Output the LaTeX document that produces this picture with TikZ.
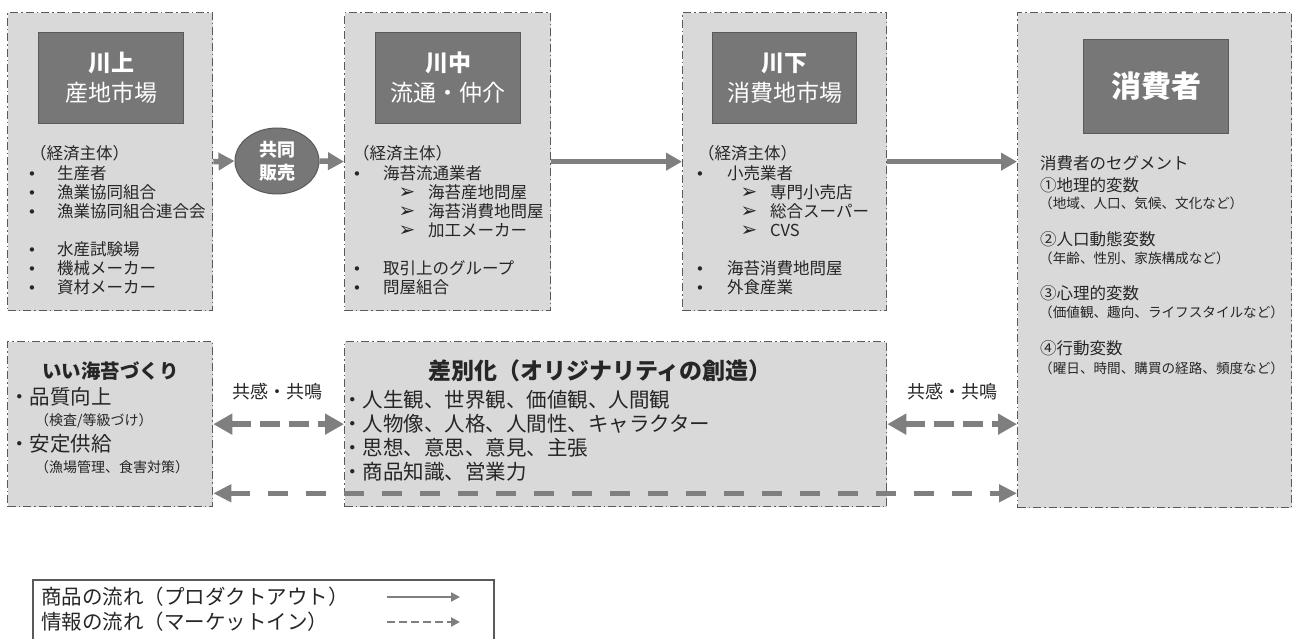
\documentclass[tikz,border=0pt]{standalone}
\usepackage{fontspec}
\setmainfont{Noto Sans CJK JP}
\newfontfamily\symfont{DejaVu Sans}
\usetikzlibrary{arrows.meta,shapes.geometric}
\definecolor{boxfill}{HTML}{D9D9D9}
\definecolor{boxline}{HTML}{5A5A5A}
\definecolor{headfill}{HTML}{777777}
\definecolor{headline}{HTML}{5A5A5A}
\definecolor{arrowc}{HTML}{7F7F7F}
\definecolor{txt}{HTML}{262626}
\newcommand{\fs}[1]{\fontsize{#1}{#1}\selectfont}
\newcommand{\bitem}[5]{%
  \node[ln, s16, anchor=center] (#1b) at (#2,#4) {\symfont\fontsize{15}{15}\selectfont •};
  \node[ln, s16] (#1) at (#3,#4) {#5};}
\newcommand{\aitem}[5]{%
  \node[ln, s16, anchor=center] (#1b) at (#2,#4) {\symfont\fontsize{20}{20}\selectfont ➢};
  \node[ln, s16] (#1) at (#3,#4) {#5};}
\begin{document}
\begin{tikzpicture}[x=1pt,y=-1pt,
  panel/.style={draw=boxline, fill=boxfill, line width=1.3pt,
    dash pattern=on 8pt off 3pt on 1.5pt off 3pt, inner sep=0pt, anchor=north west},
  headbox/.style={draw=headline, fill=headfill, line width=1.2pt, inner sep=0pt,
    anchor=north west, text=white, align=center},
  ln/.style={anchor=west, inner sep=0pt, text=txt},
  s16/.style={font=\fs{16.5}, text height=14.5pt, text depth=2pt},
  s13/.style={font=\fs{13.6}, text height=12pt, text depth=1.6pt},
  s14/.style={font=\fs{14}, text height=12.3pt, text depth=1.7pt},
  s19/.style={font=\fs{18}, text height=15.8pt, text depth=2.2pt},
  s20/.style={font=\fs{20.5}, text height=18pt, text depth=2.5pt},
  flow/.style={draw=arrowc, line width=5.5pt, -{Triangle[length=16pt,width=17pt]}},
  info/.style={draw=arrowc, line width=6.5pt, dash pattern=on 20pt off 9pt,
    {Triangle[length=19pt,width=20pt]}-{Triangle[length=19pt,width=20pt]}},
  infolong/.style={draw=arrowc, line width=5.5pt, dash pattern=on 20pt off 18pt,
    {Triangle[length=18pt,width=17pt]}-{Triangle[length=18pt,width=17pt]}},
  legflow/.style={draw=arrowc, line width=2.5pt, -{Triangle[length=9pt,width=9pt]}},
  leginfo/.style={legflow, dash pattern=on 8pt off 4pt},
]
\useasboundingbox (0,0) rectangle (1295,639);

% panels
\node[panel, minimum width=205pt, minimum height=298pt] (up) at (7,12) {};
\node[panel, minimum width=206pt, minimum height=298pt] (mid) at (344,12) {};
\node[panel, minimum width=204pt, minimum height=298pt] (down) at (682,12) {};
\node[panel, minimum width=274pt, minimum height=495pt] (cons) at (1017,12) {};
\node[panel, minimum width=205pt, minimum height=165pt] (good) at (7,341) {};
\node[panel, minimum width=542pt, minimum height=165pt] (diff) at (344,341) {};

% header boxes
\node[headbox, minimum width=145pt, minimum height=91pt, font=\fontsize{23}{30}\selectfont] (upH) at (38,32) {\textbf{川上}\\産地市場};
\node[headbox, minimum width=145pt, minimum height=91pt, font=\fontsize{23}{30}\selectfont] (midH) at (375,32) {\textbf{川中}\\流通・仲介};
\node[headbox, minimum width=144pt, minimum height=91pt, font=\fontsize{23}{30}\selectfont] (downH) at (712,32) {\textbf{川下}\\消費地市場};
\node[headbox, minimum width=145pt, minimum height=94pt, font=\fontsize{30}{34}\selectfont\bfseries] (consH) at (1083,39) {消費者};

% box 1 list
\node[ln, s16] (u0) at (30,153) {（経済主体）};
\bitem{u1}{32}{57}{173}{生産者}
\bitem{u2}{32}{57}{192}{漁業協同組合}
\bitem{u3}{32}{57}{211}{漁業協同組合連合会}
\bitem{u5}{32}{57}{249}{水産試験場}
\bitem{u6}{32}{57}{268}{機械メーカー}
\bitem{u7}{32}{57}{287}{資材メーカー}

% box 2 list
\node[ln, s16] (m0) at (353,153) {（経済主体）};
\bitem{m1}{357}{383}{173}{海苔流通業者}
\aitem{m2}{407}{428}{192}{海苔産地問屋}
\aitem{m3}{407}{428}{211}{海苔消費地問屋}
\aitem{m4}{407}{428}{230}{加工メーカー}
\bitem{m6}{357}{383}{268}{取引上のグループ}
\bitem{m7}{357}{383}{287}{問屋組合}

% box 3 list
\node[ln, s16] (d0) at (698,153) {（経済主体）};
\bitem{d1}{700}{727}{173}{小売業者}
\aitem{d2}{749}{770}{192}{専門小売店}
\aitem{d3}{749}{770}{211}{総合スーパー}
\aitem{d4}{749}{770}{230}{CVS}
\bitem{d6}{700}{727}{268}{海苔消費地問屋}
\bitem{d7}{700}{727}{287}{外食産業}

% box 4 list
\node[ln, s16] (c0) at (1040,163) {消費者のセグメント};
\node[ln, s16] (c1) at (1040,185) {①地理的変数};
\node[ln, s13] (c1s) at (1039,203) {（地域、人口、気候、文化など）};
\node[ln, s16] (c2) at (1040,239) {②人口動態変数};
\node[ln, s13] (c2s) at (1039,258) {（年齢、性別、家族構成など）};
\node[ln, s16] (c3) at (1040,293) {③心理的変数};
\node[ln, s13] (c3s) at (1039,312) {（価値観、趣向、ライフスタイルなど）};
\node[ln, s16] (c4) at (1040,348) {④行動変数};
\node[ln, s13] (c4s) at (1039,368) {（曜日、時間、購買の経路、頻度など）};

% box 5
\node[ln, s19, font=\fs{19.5}\bfseries] (g0) at (42,372) {いい海苔づくり};
\node[ln, s20] (g1) at (9,397) {・品質向上};
\node[ln, s14] (g1s) at (35,420) {（検査/等級づけ）};
\node[ln, s20] (g2) at (9,444) {・安定供給};
\node[ln, s14] (g2s) at (35,467) {（漁場管理、食害対策）};

% box 6
\node[ln, s20, anchor=center, font=\fs{23}\bfseries] (h0) at (600,372) {差別化（オリジナリティの創造）};
\node[ln, s20] (h1) at (342,400) {・人生観、世界観、価値観、人間観};
\node[ln, s20] (h2) at (342,424) {・人物像、人格、人間性、キャラクター};
\node[ln, s20] (h3) at (342,448) {・思想、意思、意見、主張};
\node[ln, s20] (h4) at (342,472) {・商品知識、営業力};

% joint sales ellipse
\node[ellipse, fill=headfill, draw=headline, line width=1pt, minimum width=84pt,
  minimum height=66pt, inner sep=0pt, text=white, align=center,
  font=\fontsize{18}{23}\selectfont\bfseries] (kyodo) at (277,161) {共同\\販売};

% product flow
\draw[flow] (up.east) -- (kyodo.west);
\draw[flow] (kyodo.east) -- (mid.west);
\draw[flow] (mid.east) -- (down.west);
\draw[flow] (down.east) -- (down.east -| cons.west);

% information flow
\node[ln, s19, anchor=center] (em1) at (277,392) {共感・共鳴};
\node[ln, s19, anchor=center] (em2) at (952,392) {共感・共鳴};
\draw[info] (good.east) -- (diff.west);
\draw[info] (diff.east) -- (diff.east -| cons.west);
\path (good.south east) ++(0,-14) coordinate (lowL);
\draw[infolong] (lowL) -- (lowL -| cons.west);

% legend
\node[draw=boxline, line width=1.5pt, minimum width=461pt, minimum height=80pt,
  inner sep=0pt, anchor=north west] (legend) at (32,579) {};
\node[ln, s20, font=\fs{20.5}] (lg1) at (41,597) {商品の流れ（プロダクトアウト）};
\node[ln, s20, font=\fs{20.5}] (lg2) at (41,622) {情報の流れ（マーケットイン）};
\coordinate (la1) at (387,597);
\coordinate (lb1) at (460,597);
\coordinate (la2) at (387,622);
\coordinate (lb2) at (460,622);
\draw[legflow] (la1) -- (lb1);
\draw[leginfo] (la2) -- (lb2);
\end{tikzpicture}
\end{document}
